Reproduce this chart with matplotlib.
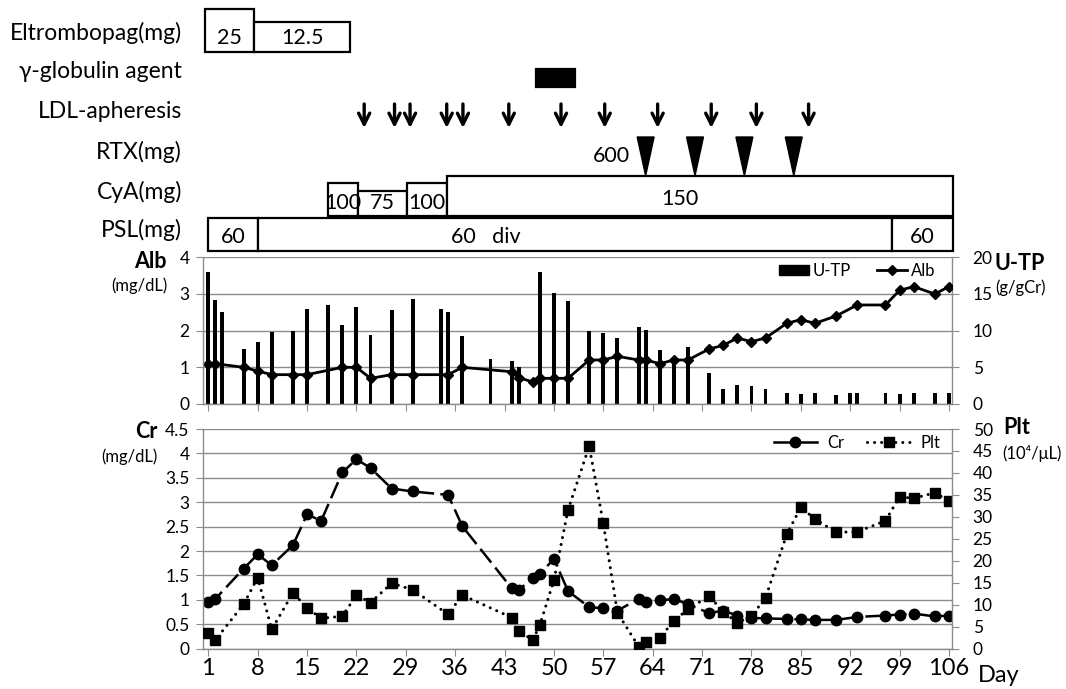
import matplotlib
matplotlib.use('Agg')
import matplotlib.pyplot as plt
from matplotlib.patches import Rectangle, Polygon, Patch
from matplotlib.lines import Line2D

plt.rcParams['font.family'] = ['Lato', 'DejaVu Sans']

# ---------------- data ----------------
utp_days = [1, 2, 3, 6, 8, 10, 13, 15, 18, 20, 22, 24, 27, 30, 34, 35, 37, 41, 44, 45,
            48, 50, 52, 55, 57, 59, 62, 63, 65, 67, 69, 72, 74, 76, 78, 80, 83, 85, 87, 90,
            92, 93, 97, 99, 101, 104, 106]
utp_vals = [18.0, 14.2, 12.6, 7.5, 8.4, 9.8, 10.0, 13.0, 13.5, 10.8, 13.2, 9.4, 12.8, 14.3, 12.9,
            12.6, 9.3, 6.1, 5.9, 5.0, 18.0, 15.1, 14.0, 10.0, 9.7, 9.0, 10.5, 10.1, 7.4, 6.4,
            7.8, 4.2, 2.1, 2.6, 2.4, 2.1, 1.45, 1.3, 1.55, 1.2, 1.55, 1.55, 1.45, 1.3, 1.45,
            1.55, 1.55]

alb_days = [1, 2, 6, 8, 10, 13, 15, 20, 22, 24, 27, 30, 35, 37, 44, 45, 47, 48, 50, 52,
            55, 57, 59, 62, 63, 65, 67, 69, 72, 74, 76, 78, 80, 83, 85, 87, 90, 93, 97, 99,
            101, 104, 106]
alb_vals = [1.1, 1.1, 1.0, 0.9, 0.8, 0.8, 0.8, 1.0, 1.0, 0.7, 0.8, 0.8, 0.8, 1.0, 0.88,
            0.72, 0.6, 0.7, 0.7, 0.7, 1.2, 1.2, 1.3, 1.2, 1.2, 1.1, 1.2, 1.2, 1.5, 1.6,
            1.8, 1.7, 1.8, 2.2, 2.3, 2.2, 2.4, 2.7, 2.7, 3.1, 3.2, 3.0, 3.2]

lab_days = [1, 2, 6, 8, 10, 13, 15, 17, 20, 22, 24, 27, 30, 35, 37, 44, 45, 47, 48, 50,
            52, 55, 57, 59, 62, 63, 65, 67, 69, 72, 74, 76, 78, 80, 83, 85, 87, 90, 93, 97,
            99, 101, 104, 106]
cr_vals = [0.95, 1.02, 1.64, 1.93, 1.71, 2.12, 2.75, 2.62, 3.61, 3.88, 3.70, 3.28, 3.22, 3.15,
           2.51, 1.24, 1.20, 1.45, 1.53, 1.84, 1.18, 0.85, 0.83, 0.78, 1.02, 0.95, 0.99, 1.02,
           0.91, 0.73, 0.78, 0.68, 0.63, 0.62, 0.61, 0.60, 0.59, 0.59, 0.65, 0.68, 0.70, 0.72,
           0.66, 0.68]
plt_vals = [3.5, 2.0, 10.1, 16.2, 4.4, 12.7, 9.3, 6.9, 7.4, 12.2, 10.5, 14.9, 13.4, 7.8, 12.2,
            7.1, 4.0, 2.0, 5.4, 15.6, 31.6, 46.1, 28.5, 8.2, 0.5, 1.6, 2.5, 6.3, 9.0, 12.0,
            8.4, 5.9, 7.4, 11.6, 26.0, 32.2, 29.5, 26.5, 26.6, 29.1, 34.6, 34.2, 35.5, 33.6]

xtick_days = list(range(1, 107, 7))

# treatments
eltro_start = [0.5, 7.5]
eltro_end = [7.5, 21.1]
eltro_dose = ['25', '12.5']
ivig_start, ivig_end = 47.5, 53.0
ldl_days = [23.1, 27.4, 29.6, 34.8, 37.1, 43.6, 51.0, 57.2, 64.7, 72.3, 78.7, 86.1]
rtx_days = [63, 70, 77, 84]
rtx_dose = '600'
cya_start = [17.9, 22.2, 29.1, 34.9]
cya_end = [22.2, 29.1, 34.9, 106.6]
cya_dose = ['100', '75', '100', '150']
psl_start = [0.9, 8.1, 97.9]
psl_end = [8.1, 97.9, 106.6]
psl_dose = ['60', '60   div', '60']

row_labels = ['Eltrombopag(mg)', 'γ-globulin agent', 'LDL-apheresis', 'RTX(mg)', 'CyA(mg)', 'PSL(mg)']

# ---------------- layout ----------------
W, H = 1066, 689
fig = plt.figure(figsize=(W / 100, H / 100), dpi=100)
fx = lambda px: px / W
fy = lambda py: 1 - py / H

XL, XR = 203.3, 951.7
XLIM = (0.29, 106.39)
GRID = '#8c8c8c'
TICK_FS = 12.5

ax1 = fig.add_axes([fx(XL), fy(404), (XR - XL) / W, (404 - 257.3) / H])
ax1r = ax1.twinx()
ax2 = fig.add_axes([fx(XL), fy(648.7), (XR - XL) / W, (648.7 - 429) / H])
ax2r = ax2.twinx()
axt = fig.add_axes([fx(XL), fy(256), (XR - XL) / W, 256 / H])

# ---- top panel: U-TP bars (right) and Alb line (left)
ax1.set_zorder(ax1r.get_zorder() + 1)
ax1.patch.set_visible(False)
ax1r.bar(utp_days, utp_vals, width=0.55, color='black', zorder=3)
ax1r.set_ylim(0, 20)
ax1r.set_yticks(range(0, 21, 5))
ax1r.grid(axis='y', color=GRID, lw=1.0)
ax1r.set_axisbelow(True)
ax1.plot(alb_days, alb_vals, color='black', lw=2, marker='D', ms=5.5)
ax1.set_ylim(0, 4)
ax1.set_yticks(range(0, 5))
ax1.set_xlim(*XLIM)
ax1.set_xticks(xtick_days)
ax1.tick_params(axis='x', labelbottom=False, direction='out', length=5, color=GRID)
ax1.tick_params(axis='y', direction='out', length=5, color=GRID, labelsize=TICK_FS, pad=5)
ax1r.tick_params(axis='y', direction='out', length=5, color=GRID, labelsize=TICK_FS, pad=10)
for a in (ax1, ax1r):
    for s in a.spines.values():
        s.set_color(GRID)
        s.set_linewidth(1.0)
    a.spines['top'].set_visible(False)
ax1.spines['right'].set_visible(False)
ax1r.spines['left'].set_visible(False)
ax1r.spines['bottom'].set_visible(False)

h_utp = Patch(facecolor='black', edgecolor='black')
h_alb = Line2D([], [], color='black', lw=2, marker='D', ms=5.5)
ax1.legend([h_utp, h_alb], ['U-TP', 'Alb'], loc='center right', bbox_to_anchor=(0.978, 0.907),
           ncol=2, frameon=False, fontsize=12, handlelength=1.8, handleheight=0.6,
           handletextpad=0.2, columnspacing=1.6, borderaxespad=0, borderpad=0)

# ---- bottom panel: Cr (left) and Plt (right)
ax2.plot(lab_days, cr_vals, color='black', lw=1.8, dashes=(7, 2.5), marker='o', ms=7.5)
ax2.set_ylim(0, 4.5)
ax2.set_yticks([i * 0.5 for i in range(10)])
ax2.set_yticklabels(['0', '0.5', '1', '1.5', '2', '2.5', '3', '3.5', '4', '4.5'])
ax2.grid(axis='y', color=GRID, lw=1.0)
ax2.set_axisbelow(True)
ax2.set_xlim(*XLIM)
ax2.set_xticks(xtick_days)
ax2.set_xticklabels([str(d) for d in xtick_days])
ax2.tick_params(axis='x', direction='out', length=5, color=GRID, labelsize=17, pad=2)
ax2.tick_params(axis='y', direction='out', length=5, color=GRID, labelsize=TICK_FS, pad=5)
ax2r.plot(lab_days, plt_vals, color='black', lw=2.2, dashes=(0.01, 2.3),
          dash_capstyle='round', marker='s', ms=7.5)
ax2r.set_ylim(0, 50)
ax2r.set_yticks(range(0, 51, 5))
ax2r.tick_params(axis='y', direction='out', length=5, color=GRID, labelsize=TICK_FS, pad=10)
for a in (ax2, ax2r):
    for s in a.spines.values():
        s.set_color(GRID)
        s.set_linewidth(1.0)
    a.spines['top'].set_visible(False)
ax2.spines['right'].set_visible(False)
ax2r.spines['left'].set_visible(False)
ax2r.spines['bottom'].set_visible(False)

h_cr = Line2D([], [], color='black', lw=1.8, marker='o', ms=7.5)
h_plt = Line2D([], [], color='black', lw=2.2, dashes=(0.01, 2.3), dash_capstyle='round',
               marker='s', ms=7.5)
ax2r.legend([h_cr, h_plt], ['Cr', 'Plt'], loc='center right', bbox_to_anchor=(0.985, 0.936),
            ncol=2, frameon=False, fontsize=12, handlelength=2.6, handletextpad=0.6,
            columnspacing=1.4, borderaxespad=0, borderpad=0)

# ---- treatment timeline
axt.set_xlim(*XLIM)
axt.set_ylim(256, 0)
axt.axis('off')
LW = 1.6
BOX_FS = 15.5

def box(x0, x1, top, bottom, face='white'):
    axt.add_patch(Rectangle((x0, top), x1 - x0, bottom - top, facecolor=face,
                            edgecolor='black', lw=LW, clip_on=False))

eltro_top = [9.3, 22.3]
for s, e, d, t in zip(eltro_start, eltro_end, eltro_dose, eltro_top):
    box(s, e, t, 51.7)
    axt.text((s + e) / 2, 38.5, d, ha='center', va='center', fontsize=BOX_FS)

box(ivig_start, ivig_end, 69, 86.7, face='black')

for d in ldl_days:
    axt.annotate('', xy=(d, 128), xytext=(d, 104),
                 arrowprops=dict(arrowstyle='->', lw=2.4, color='black',
                                 mutation_scale=20, shrinkA=0, shrinkB=0),
                 annotation_clip=False)

for d in rtx_days:
    axt.add_patch(Polygon([(d - 1.2, 137), (d + 1.2, 137), (d, 175.7)],
                          closed=True, facecolor='black', edgecolor='black', lw=1))
axt.text(rtx_days[0] - 2.2, 156.5, rtx_dose, ha='right', va='center', fontsize=BOX_FS)

cya_top = [182.7, 190.7, 182.7, 175.7]
cya_lab_x = [None, None, None, 67.8]
for s, e, d, t, lx in zip(cya_start, cya_end, cya_dose, cya_top, cya_lab_x):
    box(s, e, t, 216)
    axt.text(lx if lx else (s + e) / 2, 203 if lx is None else 199, d,
             ha='center', va='center', fontsize=BOX_FS)

psl_lab_x = [None, 40.3, None]
for s, e, d, lx in zip(psl_start, psl_end, psl_dose, psl_lab_x):
    box(s, e, 218.3, 250.7)
    axt.text(lx if lx else (s + e) / 2, 237, d, ha='center', va='center', fontsize=BOX_FS)

row_y = [33.3, 71.7, 111.7, 151.7, 191.7, 230]
for lab, y in zip(row_labels, row_y):
    fig.text(fx(182), fy(y), lab, ha='right', va='center', fontsize=16.5)

# ---- axis titles
fig.text(fx(167), fy(261), 'Alb', ha='right', va='center', fontsize=15.5, fontweight='bold')
fig.text(fx(167), fy(286), '(mg/dL)', ha='right', va='center', fontsize=12)
fig.text(fx(158), fy(431), 'Cr', ha='right', va='center', fontsize=15.5, fontweight='bold')
fig.text(fx(158), fy(457), '(mg/dL)', ha='right', va='center', fontsize=12)
fig.text(fx(995), fy(263), 'U-TP', ha='left', va='center', fontsize=15.5, fontweight='bold')
fig.text(fx(995), fy(288), '(g/gCr)', ha='left', va='center', fontsize=12)
fig.text(fx(1003), fy(428), 'Plt', ha='left', va='center', fontsize=15.5, fontweight='bold')
fig.text(fx(1002), fy(453), '(10⁴/μL)', ha='left', va='center', fontsize=12)
fig.text(fx(978), fy(676), 'Day', ha='left', va='center', fontsize=17)

fig.savefig('out.png', dpi=100)
